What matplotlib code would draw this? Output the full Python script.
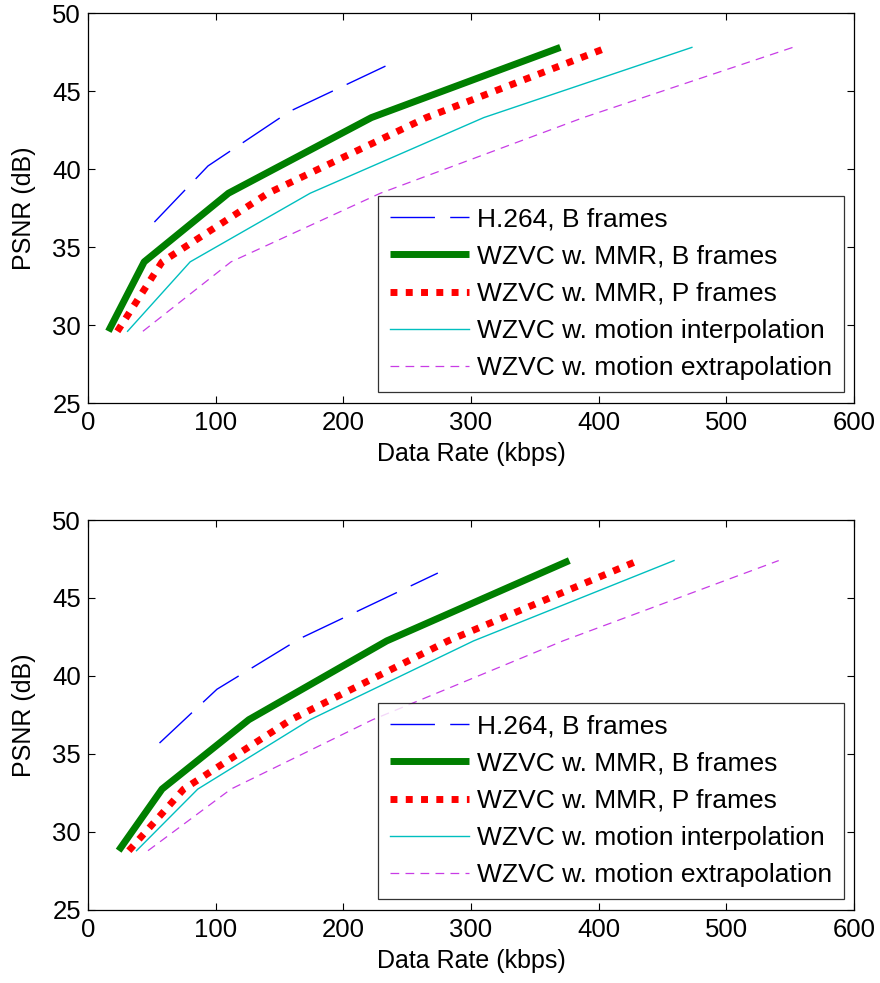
import matplotlib
matplotlib.use("Agg")
import matplotlib.pyplot as plt

plt.rcParams['font.family'] = ['Liberation Sans', 'DejaVu Sans']

labels = ["H.264, B frames", "WZVC w. MMR, B frames", "WZVC w. MMR, P frames",
          "WZVC w. motion interpolation", "WZVC w. motion extrapolation"]

# top panel
top_h264_rate = [52, 94, 158, 233]
top_h264_psnr = [36.6, 40.2, 43.7, 46.6]
top_psnr = [29.6, 34.05, 38.45, 43.3, 47.8]
top_mmr_b_rate = [16, 44, 110, 222, 370]
top_mmr_p_rate = [23, 58, 141, 265, 407]
top_interp_rate = [31, 80, 174, 310, 473]
top_extrap_rate = [43, 112, 229, 388, 552]

# bottom panel
bot_h264_rate = [56, 101, 166, 274]
bot_h264_psnr = [35.7, 39.15, 42.4, 46.6]
bot_psnr = [28.8, 32.75, 37.2, 42.25, 47.4]
bot_mmr_b_rate = [24, 58, 126, 234, 377]
bot_mmr_p_rate = [32, 75, 159, 282, 431]
bot_interp_rate = [38, 86, 174, 302, 459]
bot_extrap_rate = [47, 112, 223, 372, 541]

fig = plt.figure(figsize=(8.8, 9.83), dpi=100)
ax1 = fig.add_axes([0.100, 0.590, 0.8705, 0.3967])
ax2 = fig.add_axes([0.100, 0.0743, 0.8705, 0.3967])

panels = [
    (ax1, top_h264_rate, top_h264_psnr, top_psnr, top_mmr_b_rate, top_mmr_p_rate, top_interp_rate, top_extrap_rate),
    (ax2, bot_h264_rate, bot_h264_psnr, bot_psnr, bot_mmr_b_rate, bot_mmr_p_rate, bot_interp_rate, bot_extrap_rate),
]

for ax, hr, hp, ps, mb, mp, mi, me in panels:
    ax.plot(hr, hp, color='#0000ff', lw=1.0, dashes=(32, 11), label=labels[0])
    ax.plot(mb, ps, color='#007f00', lw=5.0, solid_capstyle='butt', label=labels[1])
    ax.plot(mp, ps, color='#ff0000', lw=5.0, dashes=(1, 1.2), dash_capstyle='butt', label=labels[2])
    ax.plot(mi, ps, color='#00bfbf', lw=1.0, label=labels[3])
    ax.plot(me, ps, color='#c83ce6', lw=0.9, dashes=(7, 5), label=labels[4])

    ax.set_xlim(0, 600)
    ax.set_ylim(25, 50)
    ax.set_xticks(range(0, 601, 100))
    ax.set_yticks(range(25, 51, 5))
    ax.tick_params(direction='in', top=True, right=True, length=5, width=0.8, labelsize=18.5)
    ax.tick_params(axis='x', pad=6)
    ax.tick_params(axis='y', pad=5)
    for s in ax.spines.values():
        s.set_linewidth(0.9)
    ax.set_xlabel("Data Rate (kbps)", fontsize=18, labelpad=5)
    ax.set_ylabel("PSNR (dB)", fontsize=18, labelpad=12)
    leg = ax.legend(loc='lower right', bbox_to_anchor=(0.987, 0.028), fontsize=19,
                    handlelength=3.0, handletextpad=0.3, labelspacing=0.5,
                    borderpad=0.45, borderaxespad=0.0, frameon=True, fancybox=False)
    leg.get_frame().set_edgecolor('black')
    leg.get_frame().set_linewidth(0.9)

fig.savefig("out.png", dpi=100)
